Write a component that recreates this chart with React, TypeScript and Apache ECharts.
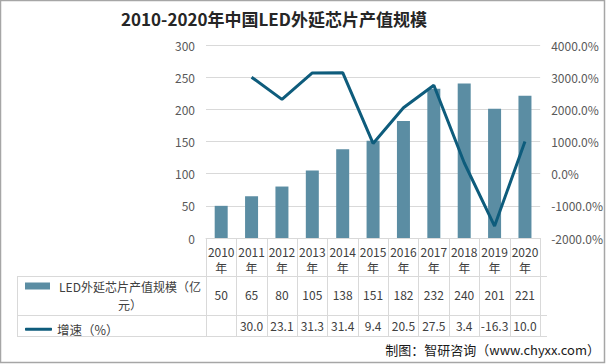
import React, { useEffect, useRef } from "react";
import * as echarts from "echarts";

const categories = ["2010年", "2011年", "2012年", "2013年", "2014年", "2015年", "2016年", "2017年", "2018年", "2019年", "2020年"];
const outputValues = [50, 65, 80, 105, 138, 151, 182, 232, 240, 201, 221];
const growthValues: (number | null)[] = [null, 30.0, 23.1, 31.3, 31.4, 9.4, 20.5, 27.5, 3.4, -16.3, 10.0];
const barName = "LED外延芯片产值规模（亿元）";
const lineName = "增速（%）";
const titleText = "2010-2020年中国LED外延芯片产值规模";
const sourceText = "制图：智研咨询（www.chyxx.com）";

const FONT = "'Noto Sans CJK SC', 'Noto Sans', sans-serif";
const TXT = "#404040";
const GRID_LINE = "#d9d9d9";

export default function App() {
  const ref = useRef<HTMLDivElement>(null);
  useEffect(() => {
    if (!ref.current) return;
    const chart = echarts.init(ref.current, null, { renderer: "svg" });
    const gridLeft = 206;
    const gridRight = 59;
    const tableLeft = 17;
    const tableRight = 606 - gridRight;
    const hLine = (y: number, x1: number) => ({
      type: "line",
      shape: { x1, y1: y, x2: tableRight, y2: y },
      style: { stroke: GRID_LINE, lineWidth: 1 },
      silent: true,
    });
    chart.setOption({
      animation: false,
      textStyle: { fontFamily: FONT },
      title: {
        text: titleText,
        left: 116,
        top: 5,
        textStyle: { fontFamily: FONT, fontSize: 17, fontWeight: "bold", color: "#262626" },
      },
      grid: { left: gridLeft, right: gridRight, top: 45, bottom: 126, containLabel: false },
      legend: [
        {
          data: [barName],
          left: 20,
          top: 275,
          icon: "rect",
          itemWidth: 25,
          itemHeight: 7,
          itemGap: 0,
          formatter: () => "{a|LED外延芯片产值规模（亿}\n{a|元）}",
          textStyle: {
            fontFamily: FONT,
            color: TXT,
            fontSize: 12,
            padding: [18, 0, 0, 2],
            rich: { a: { width: 146, align: "center", fontSize: 12, lineHeight: 18, color: TXT, fontFamily: FONT } },
          },
          selectedMode: false,
        },
        {
          data: [lineName],
          left: 20,
          top: 318,
          icon: "roundRect",
          itemWidth: 27,
          itemHeight: 3,
          textStyle: { fontFamily: FONT, color: TXT, fontSize: 12.5, padding: [0, 0, 0, 0] },
          selectedMode: false,
        },
      ],
      xAxis: [
        {
          type: "category",
          data: categories,
          axisLine: { show: true, lineStyle: { color: GRID_LINE } },
          axisTick: { show: true, length: 98, interval: 0, lineStyle: { color: GRID_LINE } },
          axisLabel: {
            interval: 0,
            margin: 5,
            fontSize: 12,
            lineHeight: 16,
            color: TXT,
            fontFamily: FONT,
            formatter: (v: string) => v.replace("年", "\n年"),
          },
        },
        {
          type: "category",
          data: outputValues.map((v) => String(v)),
          position: "bottom",
          axisLine: { show: false },
          axisTick: { show: false },
          axisLabel: { interval: 0, margin: 50, fontSize: 12, color: TXT, fontFamily: FONT },
        },
        {
          type: "category",
          data: growthValues.map((v) => (v === null ? "" : v.toFixed(1))),
          position: "bottom",
          axisLine: { show: false },
          axisTick: { show: false },
          axisLabel: { interval: 0, margin: 81, fontSize: 12, color: TXT, fontFamily: FONT },
        },
      ],
      yAxis: [
        {
          type: "value",
          min: 0,
          max: 300,
          interval: 50,
          axisLine: { show: false },
          axisTick: { show: false },
          axisLabel: { margin: 11, fontSize: 12, color: "#595959", fontFamily: FONT },
          splitLine: { lineStyle: { color: GRID_LINE } },
        },
        {
          type: "value",
          min: -20,
          max: 40,
          interval: 10,
          axisLine: { show: false },
          axisTick: { show: false },
          splitLine: { show: false },
          axisLabel: {
            margin: 11,
            fontSize: 12,
            color: "#595959",
            fontFamily: FONT,
            formatter: (v: number) => (v * 100).toFixed(1) + "%",
          },
        },
      ],
      series: [
        {
          name: barName,
          type: "bar",
          data: outputValues,
          xAxisIndex: 0,
          yAxisIndex: 0,
          barWidth: 13,
          itemStyle: { color: "#5B8DA3" },
        },
        {
          name: lineName,
          type: "line",
          data: growthValues,
          xAxisIndex: 0,
          yAxisIndex: 1,
          symbol: "none",
          connectNulls: false,
          lineStyle: { color: "#0E5C7C", width: 3 },
          itemStyle: { color: "#0E5C7C" },
        },
      ],
      graphic: [
        hLine(276.5, tableLeft),
        hLine(315.5, tableLeft),
        hLine(336.5, tableLeft),
        {
          type: "line",
          shape: { x1: tableLeft + 0.5, y1: 276.5, x2: tableLeft + 0.5, y2: 336.5 },
          style: { stroke: GRID_LINE, lineWidth: 1 },
          silent: true,
        },
        {
          type: "text",
          right: 6,
          top: 343,
          style: { text: sourceText, fontSize: 13, fill: "#1a1a1a", fontFamily: FONT },
        },
        {
          type: "rect",
          shape: { x: 0.5, y: 0.5, width: 604, height: 362 },
          style: { fill: "none", stroke: "#a6a6a6", lineWidth: 1.5 },
          silent: true,
        },
      ],
    });
    return () => chart.dispose();
  }, []);
  return (
    <div
      ref={ref}
      style={{ position: "absolute", left: 0, top: 0, width: 606, height: 364, background: "#fff" }}
    />
  );
}
